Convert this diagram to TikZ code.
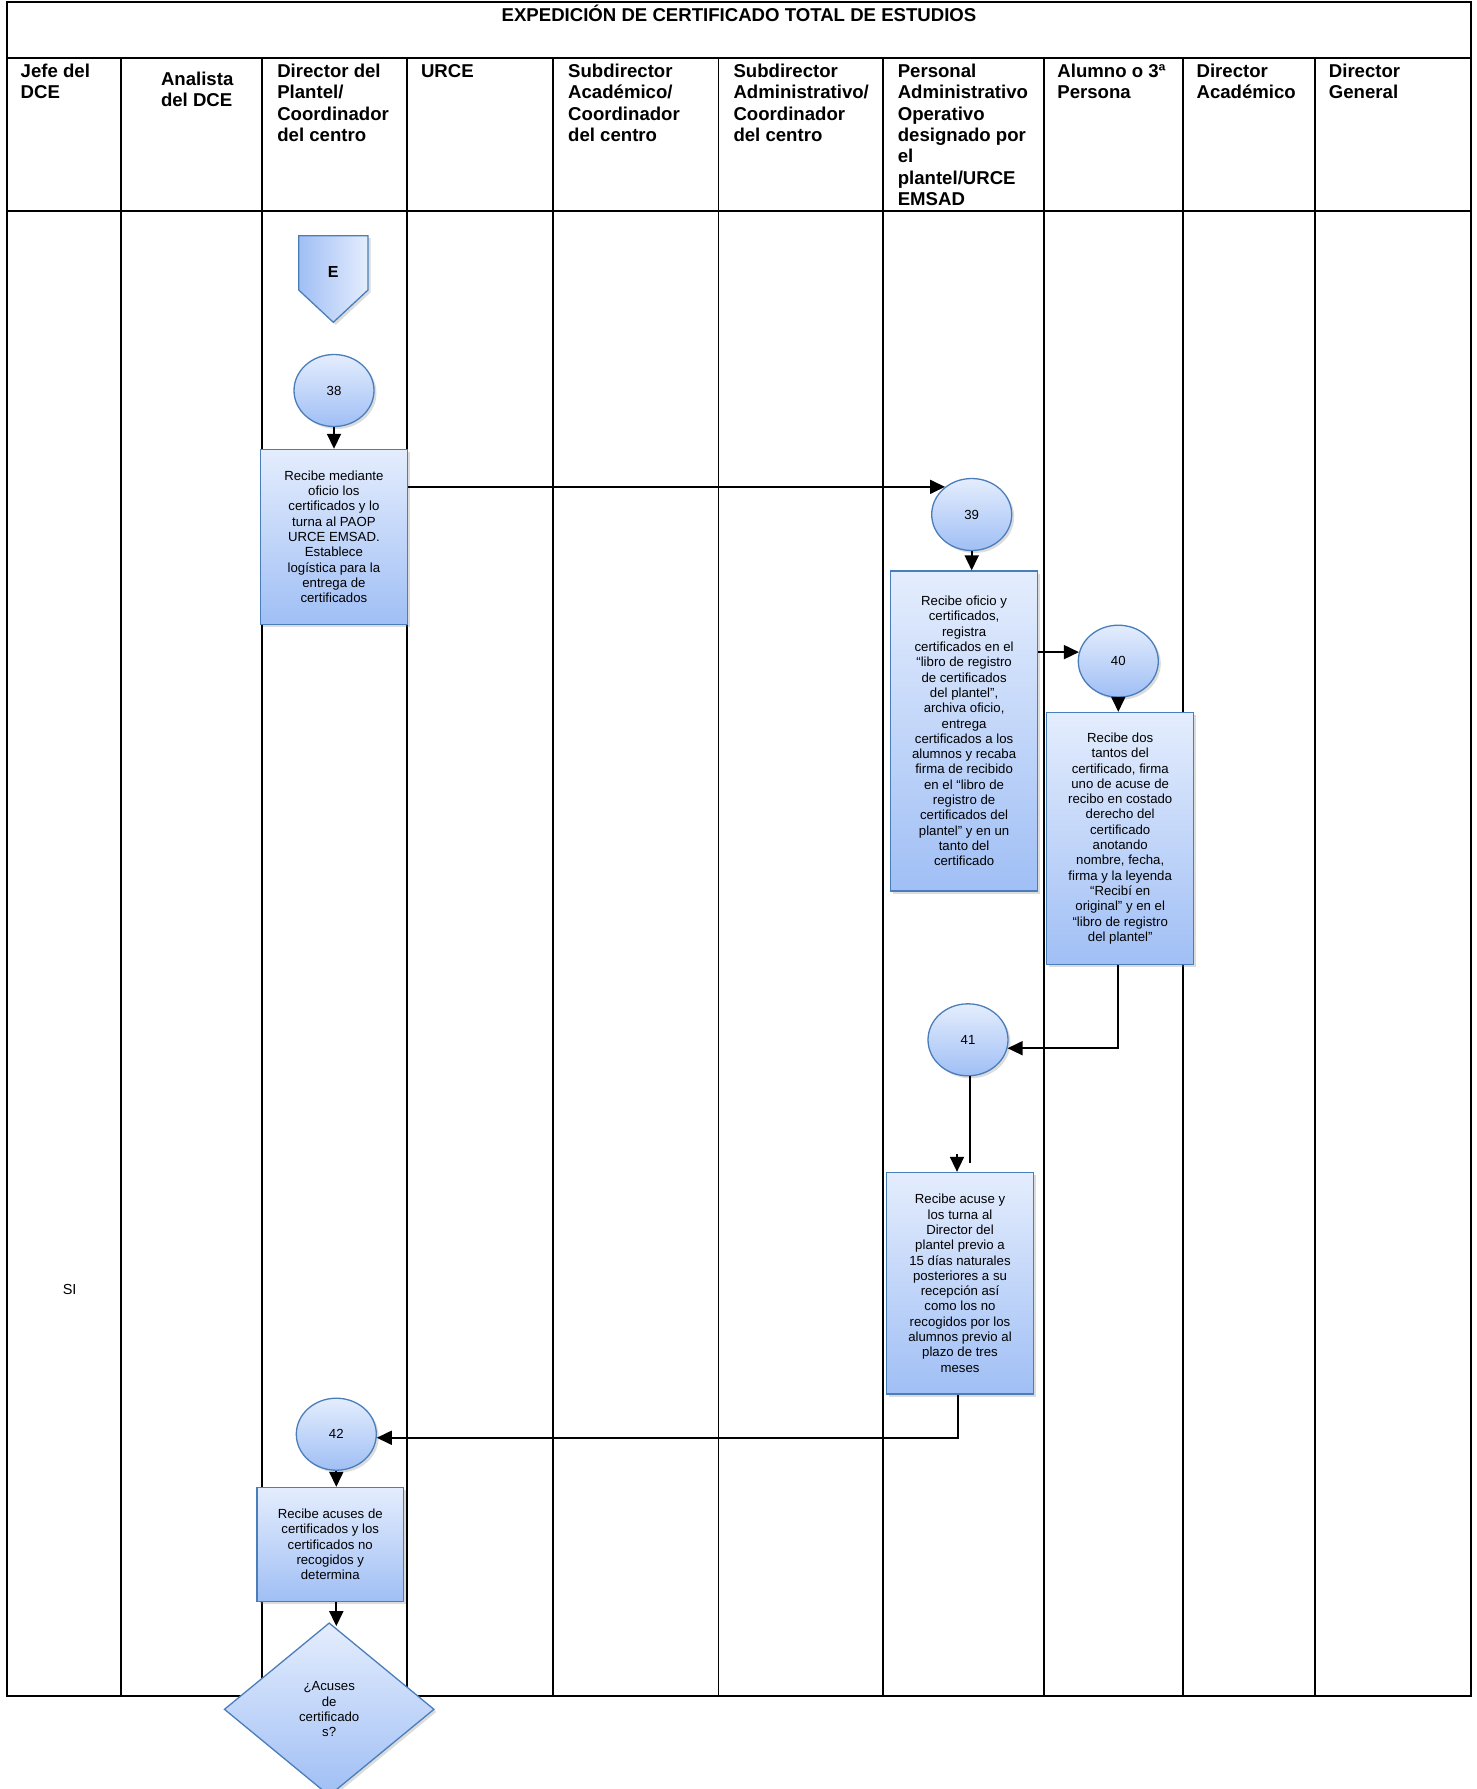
\documentclass[tikz,border=0pt]{standalone}
\usepackage{fontspec}
\setmainfont{Liberation Sans}
\usetikzlibrary{shapes.geometric,arrows.meta,shadows}
\definecolor{cTop}{RGB}{228,237,253}
\definecolor{cBot}{RGB}{160,191,245}
\definecolor{cEdge}{RGB}{74,126,187}
\begin{document}
\begin{tikzpicture}[x=1pt,y=-1pt,
  lane/.style={line width=1.8pt,black},
  hdr/.style={anchor=north west,align=left,inner sep=0pt,font=\fontsize{18.6}{21.3}\selectfont\bfseries},
  flow/.style={draw=cEdge,line width=1.3pt,top color=cTop,bottom color=cBot,
    drop shadow={opacity=0.28,shadow xshift=2.5pt,shadow yshift=-2.5pt}},
  act/.style={flow,rectangle,inner sep=0pt,align=center,font=\fontsize{13.2}{15.3}\selectfont},
  conn/.style={flow,ellipse,minimum width=80pt,minimum height=72pt,inner sep=0pt,font=\fontsize{13.2}{15.3}\selectfont},
  link/.style={line width=1.7pt,black},
  arr/.style={link,-{Triangle[length=15pt,width=14pt]}},
]
\useasboundingbox (0,0) rectangle (1477,1789);
% frame and lanes
\draw[lane] (6.8,2.3) rectangle (1471.2,1696);
\draw[lane] (6.8,58.2) -- (1471.2,58.2);
\draw[lane] (6.8,211) -- (1471.2,211);
\foreach \xx in {120.9,262.3,407.2,553.1,718.5,882.7,1043.6,1182.7,1315}
  \draw[lane] (\xx,58.2) -- (\xx,1696);
% title and headers
\node[anchor=base,inner sep=0pt,font=\fontsize{18.6}{21.3}\selectfont\bfseries] (title) at (739,21.5) {EXPEDICIÓN DE CERTIFICADO TOTAL DE ESTUDIOS};
\node[hdr] (h1) at (20.5,62.5) {\strut Jefe del\\DCE};
\node[hdr] (h2) at (160.8,70.5) {\strut Analista\\del DCE};
\node[hdr] (h3) at (277.1,62.5) {\strut Director del\\Plantel/\\Coordinador\\del centro};
\node[hdr] (h4) at (420.8,62.5) {\strut URCE};
\node[hdr] (h5) at (568,62.5) {\strut Subdirector\\Académico/\\Coordinador\\del centro};
\node[hdr] (h6) at (733.3,62.5) {\strut Subdirector\\Administrativo/\\Coordinador\\del centro};
\node[hdr] (h7) at (897.6,62.5) {\strut Personal\\Administrativo\\Operativo\\designado por\\el\\plantel/URCE\\EMSAD};
\node[hdr] (h8) at (1057.2,62.5) {\strut Alumno o 3ª\\Persona};
\node[hdr] (h9) at (1196.4,62.5) {\strut Director\\Académico};
\node[hdr] (h10) at (1328.7,62.5) {\strut Director\\General};
\node[anchor=base,inner sep=0pt,font=\fontsize{14.5}{16}\selectfont] (si) at (69.6,1294) {SI};
% off-page connector E
\path[draw=cEdge,line width=1.3pt,left color=cBot,right color=cTop,
    drop shadow={opacity=0.28,shadow xshift=2.5pt,shadow yshift=-2.5pt}]
  (298.7,235.7) -- (368,235.7) -- (368,290) -- (333.3,322.3) -- (298.7,290) -- cycle;
\node[font=\fontsize{16}{18}\selectfont\bfseries,inner sep=0pt] (E) at (333.3,271.7) {E};
% circles
\node[conn] (c38) at (334,390.5) {38};
\node[conn] (c39) at (971.7,514.5) {39};
\node[conn] (c40) at (1118.3,661.2) {40};
\node[conn] (c41) at (968,1039.8) {41};
\node[conn] (c42) at (336.3,1434.2) {42};
% activities
\node[act,minimum width=147pt,minimum height=174.7pt] (b1) at (333.9,536.8)
  {Recibe mediante\\oficio los\\certificados y lo\\turna al PAOP\\URCE EMSAD.\\Establece\\logística para la\\entrega de\\certificados};
\node[act,minimum width=146.8pt,minimum height=320pt] (b2) at (964.1,731)
  {Recibe oficio y\\certificados,\\registra\\certificados en el\\“libro de registro\\de certificados\\del plantel”,\\archiva oficio,\\entrega\\certificados a los\\alumnos y recaba\\firma de recibido\\en el “libro de\\registro de\\certificados del\\plantel” y en un\\tanto del\\certificado};
\node[act,minimum width=147pt,minimum height=252pt] (b3) at (1120.2,838.5)
  {Recibe dos\\tantos del\\certificado, firma\\uno de acuse de\\recibo en costado\\derecho del\\certificado\\anotando\\nombre, fecha,\\firma y la leyenda\\“Recibí en\\original” y en el\\“libro de registro\\del plantel”};
\node[act,minimum width=146.6pt,minimum height=221.5pt] (b4) at (960,1283.25)
  {Recibe acuse y\\los turna al\\Director del\\plantel previo a\\15 días naturales\\posteriores a su\\recepción así\\como los no\\recogidos por los\\alumnos previo al\\plazo de tres\\meses};
\node[act,minimum width=146.5pt,minimum height=114pt] (b5) at (330.25,1544.5)
  {Recibe acuses de\\certificados y los\\certificados no\\recogidos y\\determina};
\node[flow,diamond,aspect=1.21,minimum width=210pt,minimum height=173pt,inner sep=0pt,
  align=center,font=\fontsize{13.2}{15.3}\selectfont] (dia) at (329.2,1709.3)
  {¿Acuses\\de\\certificado\\s?};
% connectors
\draw[arr] (c38.south) -- (c38.south |- b1.north);
\draw[arr] (b1.east |- c39.134) -- (c39.134);
\draw[arr] (c39.south) -- (c39.south |- b2.north);
\draw[arr] (b2.east |- c40.167) -- (c40.167);
\draw[arr] (c40.south) -- (c40.south |- b3.north);
\draw[arr] (c40.south |- b3.south) |- (c41.348);
\coordinate (k41) at (970,1162.7);
\draw[link] (c41.south -| k41) -- (k41);
\coordinate (k41b) at (957,1154.3);
\draw[arr] (k41b) -- (k41b |- b4.north);
\draw[arr] ([xshift=-2.3pt]b4.south) |- (c42.355);
\draw[arr] (c42.south) -- (c42.south |- b5.north);
\draw[arr] (c42.south |- b5.south) -- ([yshift=-4pt]c42.south |- dia.north);
\end{tikzpicture}
\end{document}
